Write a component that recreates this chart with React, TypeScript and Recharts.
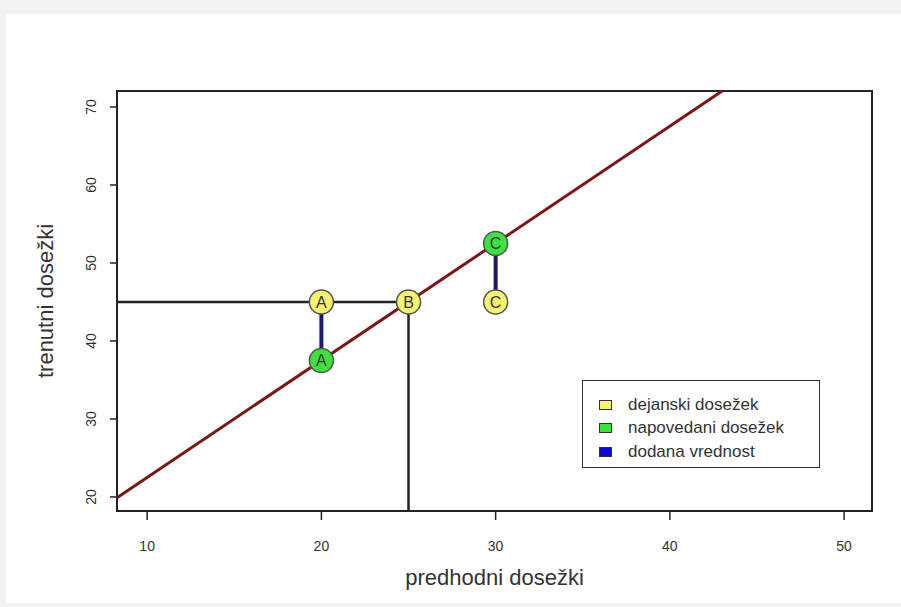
import { ComposedChart, XAxis, YAxis, Scatter, ReferenceLine, ReferenceArea } from 'recharts';

const X_MIN = 8.27;
const X_MAX = 51.6;
const Y_MIN = 18.2;
const Y_MAX = 72.05;

const xTicks = [10, 20, 30, 40, 50];
const yTicks = [20, 30, 40, 50, 60, 70];

// dejanski dosežek (actual)
const actual = [
    { x: 20, y: 45, label: 'A' },
    { x: 25, y: 45, label: 'B' },
    { x: 30, y: 45, label: 'C' },
];
// napovedani dosežek (predicted)
const predicted = [
    { x: 20, y: 37.5, label: 'A' },
    { x: 30, y: 52.5, label: 'C' },
];
// regression line end points
const regLine = [
    { x: 8.27, y: 19.9 },
    { x: 43.0, y: 72.05 },
];
const cutX = 25;
const cutY = 45;

const legendItems = [
    { name: 'dejanski dosežek', color: '#f6f46e' },
    { name: 'napovedani dosežek', color: '#3ee23e' },
    { name: 'dodana vrednost', color: '#0a0ad0' },
];

const font = 'Arial, "Liberation Sans", sans-serif';

const Marker = (fill: string) => (props: any) => {
    const { cx, cy, payload } = props;
    return (
        <g>
            <circle cx={cx} cy={cy} r={12} fill={fill} stroke="#555" strokeWidth={1.5} />
            <text x={cx} y={cy + 6} textAnchor="middle" fontSize={16} fontFamily={font} fill="#333">
                {payload.label}
            </text>
        </g>
    );
};

const XTick = (props: any) => {
    const { x, y, payload } = props;
    return (
        <text x={x} y={y + 29} textAnchor="middle" fontSize={14} fontFamily={font} fill="#333">
            {payload.value}
        </text>
    );
};

const YTick = (props: any) => {
    const { x, y, payload } = props;
    const tx = x - 12;
    return (
        <text
            x={tx}
            y={y}
            textAnchor="middle"
            fontSize={14}
            fontFamily={font}
            fill="#333"
            transform={`rotate(-90, ${tx}, ${y})`}
        >
            {payload.value}
        </text>
    );
};

export default function App() {
    return (
        <div style={{ position: 'absolute', left: 0, top: 0, width: 901, height: 607, background: '#f2f2f2' }}>
            <div style={{ position: 'absolute', left: 6, top: 14, width: 895, height: 589, background: '#fff' }} />
            <div style={{ position: 'absolute', left: 0, top: 0 }}>
                <ComposedChart width={901} height={607} margin={{ top: 91, right: 29, bottom: 0, left: 0 }}>
                    <XAxis
                        type="number"
                        dataKey="x"
                        domain={[X_MIN, X_MAX]}
                        ticks={xTicks}
                        allowDataOverflow
                        height={96}
                        axisLine={false}
                        tickLine={{ stroke: '#222', strokeWidth: 1.5 }}
                        tickSize={9}
                        tick={<XTick />}
                        label={{ value: 'predhodni dosežki', position: 'insideBottom', offset: 22, fontSize: 22, fontFamily: font, fill: '#333' }}
                    />
                    <YAxis
                        type="number"
                        dataKey="y"
                        domain={[Y_MIN, Y_MAX]}
                        ticks={yTicks}
                        allowDataOverflow
                        width={117}
                        axisLine={false}
                        tickLine={{ stroke: '#222', strokeWidth: 1.5 }}
                        tickSize={7}
                        tick={<YTick />}
                        label={{ value: 'trenutni dosežki', angle: -90, position: 'insideLeft', offset: 45, fontSize: 22, fontFamily: font, fill: '#333', style: { textAnchor: 'middle' } }}
                    />
                    <ReferenceLine
                        segment={[{ x: X_MIN, y: cutY }, { x: cutX, y: cutY }]}
                        stroke="#222"
                        strokeWidth={2.5}
                    />
                    <ReferenceLine
                        segment={[{ x: cutX, y: cutY }, { x: cutX, y: Y_MIN }]}
                        stroke="#222"
                        strokeWidth={2.5}
                    />
                    <ReferenceLine segment={regLine} stroke="#7a1616" strokeWidth={3} />
                    {predicted.map((p) => (
                        <ReferenceLine
                            key={p.label}
                            segment={[{ x: p.x, y: p.y }, { x: p.x, y: actual.find((a) => a.label === p.label)!.y }]}
                            stroke="#1a1a6e"
                            strokeWidth={4}
                        />
                    ))}
                    <ReferenceArea
                        x1={X_MIN}
                        x2={X_MAX}
                        y1={Y_MIN}
                        y2={Y_MAX}
                        fill="none"
                        fillOpacity={0}
                        stroke="#222"
                        strokeWidth={2}
                    />
                    <Scatter data={actual} shape={Marker('#f6f46e')} isAnimationActive={false} />
                    <Scatter data={predicted} shape={Marker('#3ee23e')} isAnimationActive={false} />
                </ComposedChart>
            </div>
            <div
                style={{
                    position: 'absolute',
                    left: 582,
                    top: 380,
                    width: 238,
                    height: 88,
                    border: '1.5px solid #333',
                    background: '#fff',
                    boxSizing: 'border-box',
                    paddingTop: 12,
                    paddingLeft: 16,
                    fontFamily: font,
                    fontSize: 17,
                    color: '#333',
                }}
            >
                {legendItems.map((item) => (
                    <div key={item.name} style={{ display: 'flex', alignItems: 'center', height: 23.5 }}>
                        <span
                            style={{
                                display: 'inline-block',
                                width: 11,
                                height: 8,
                                background: item.color,
                                border: '1.5px solid #333',
                                marginRight: 16,
                            }}
                        />
                        <span>{item.name}</span>
                    </div>
                ))}
            </div>
        </div>
    );
}
